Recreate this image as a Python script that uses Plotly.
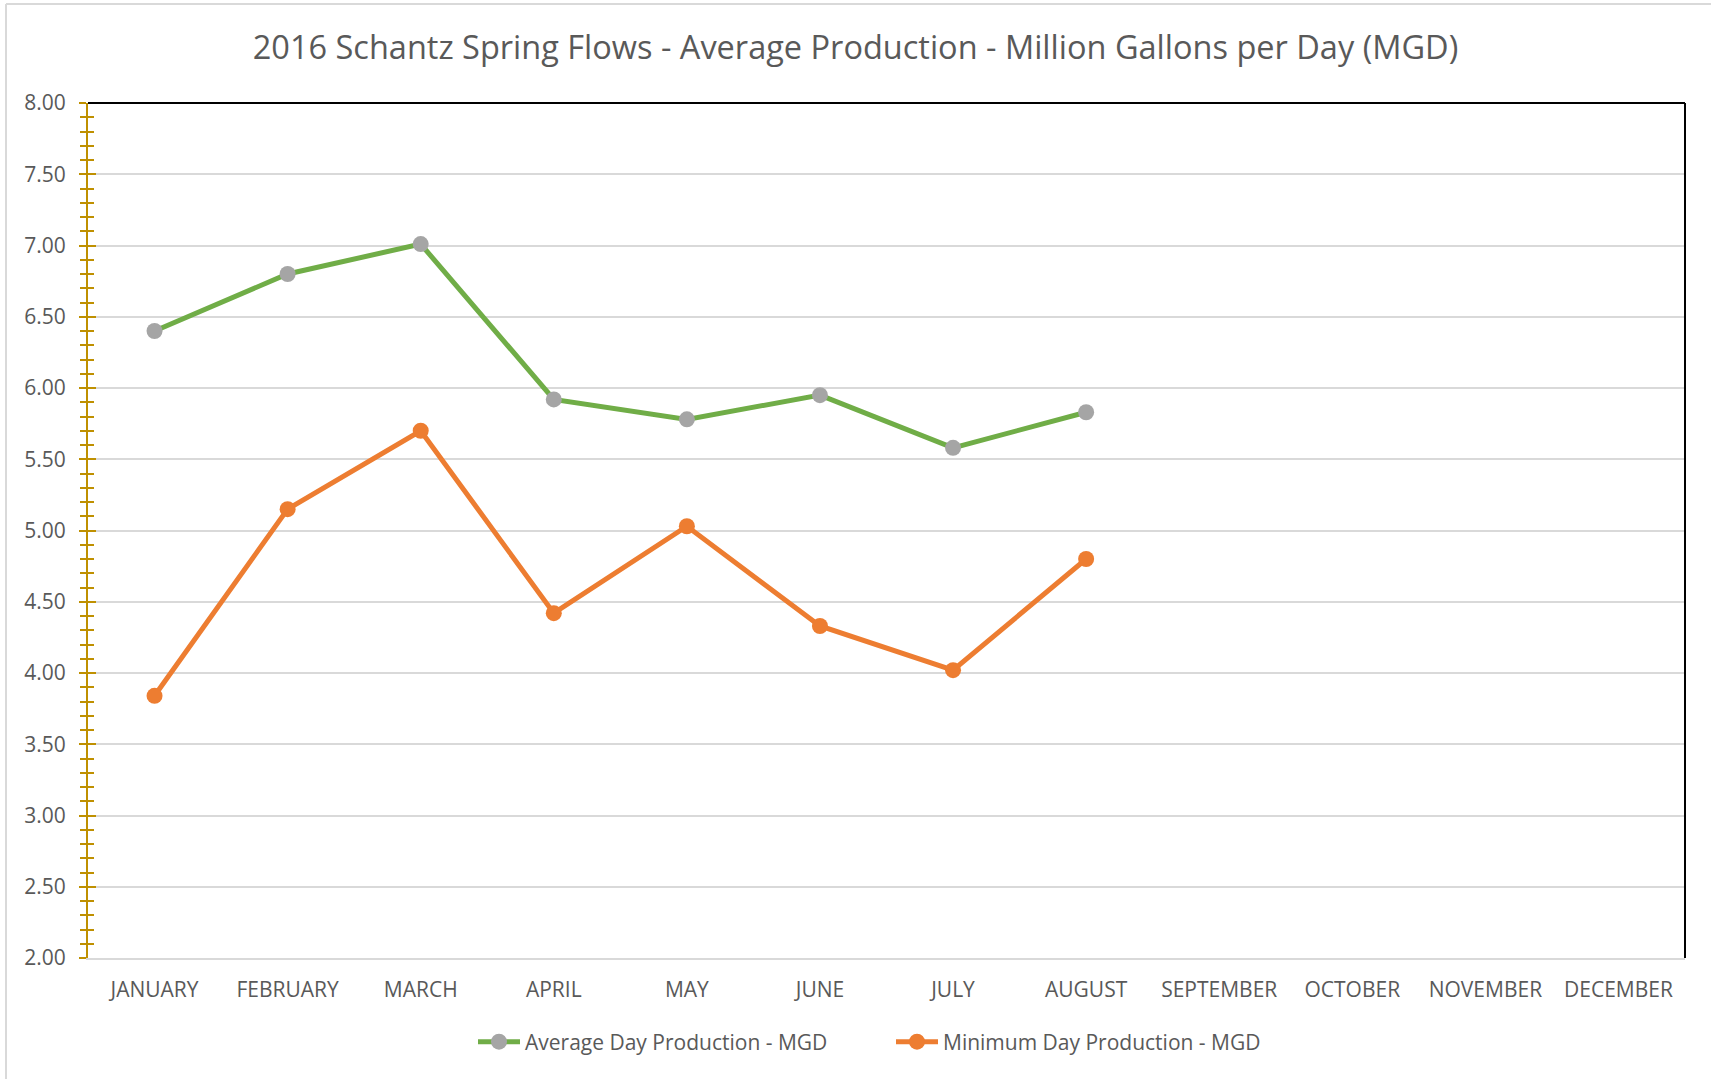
import plotly.graph_objects as go

months = ["JANUARY", "FEBRUARY", "MARCH", "APRIL", "MAY", "JUNE", "JULY",
          "AUGUST", "SEPTEMBER", "OCTOBER", "NOVEMBER", "DECEMBER"]
avg_months = months[:8]
avg_day = [6.40, 6.80, 7.01, 5.92, 5.78, 5.95, 5.58, 5.83]
min_day = [3.84, 5.15, 5.70, 4.42, 5.03, 4.33, 4.02, 4.80]

TXT = "#595959"
GOLD = "#BF9000"
GRID = "#D9D9D9"
FONT = "Open Sans"

W, H = 1711, 1079
L, R, T, B = 88, 26, 103, 121
PW, PH = W - L - R, H - T - B

fig = go.Figure()
fig.add_trace(go.Scatter(
    x=avg_months, y=avg_day, mode="lines+markers",
    name="Average Day Production - MGD",
    line=dict(color="#70AD47", width=5),
    marker=dict(color="#A5A5A5", size=16),
))
fig.add_trace(go.Scatter(
    x=avg_months, y=min_day, mode="lines+markers",
    name="Minimum Day Production - MGD",
    line=dict(color="#ED7D31", width=5),
    marker=dict(color="#ED7D31", size=16),
))
# helper trace so the overlay axis (inside half of crossing ticks) is drawn
fig.add_trace(go.Scatter(x=[months[0]], y=[None], yaxis="y2",
                         showlegend=False, hoverinfo="skip"))

fig.update_layout(
    width=W, height=H,
    paper_bgcolor="white", plot_bgcolor="white",
    margin=dict(l=L, r=R, t=T, b=B),
    font=dict(family=FONT, color=TXT, size=21),
    title=dict(
        text="2016 Schantz Spring Flows - Average Production - Million Gallons per Day (MGD)",
        font=dict(family=FONT, size=32.5, color=TXT),
        x=0.5, xref="container", xanchor="center",
        y=1 - 48 / H, yref="container", yanchor="middle",
    ),
    xaxis=dict(
        type="category", categoryorder="array", categoryarray=months,
        range=[-0.5, 11.5], showgrid=False,
        showline=True, linecolor=GRID, linewidth=2,
        ticks="", tickfont=dict(size=21, color=TXT), ticklabelstandoff=12,
        zeroline=False,
    ),
    yaxis=dict(
        range=[2, 8], dtick=0.5, tick0=2, tickformat=".2f",
        showgrid=True, gridcolor=GRID, gridwidth=2,
        showline=True, linecolor=GOLD, linewidth=2,
        ticks="outside", ticklen=7, tickwidth=2, tickcolor=GOLD,
        minor=dict(dtick=0.1, ticks="outside", ticklen=6, tickwidth=2,
                   tickcolor=GOLD, showgrid=False),
        tickfont=dict(size=21, color=TXT), ticklabelstandoff=9,
        zeroline=False,
    ),
    yaxis2=dict(
        range=[2, 8], dtick=0.5, tick0=2, overlaying="y", side="left",
        showgrid=False, showline=False, showticklabels=False,
        ticks="inside", ticklen=8, tickwidth=2, tickcolor=GOLD,
        minor=dict(dtick=0.1, ticks="inside", ticklen=6, tickwidth=2,
                   tickcolor=GOLD, showgrid=False),
        zeroline=False,
    ),
    legend=dict(
        orientation="h", x=(466 - 5 + 12) / W, xref="container", xanchor="left",
        y=1 - 1042 / H, yref="container", yanchor="middle",
        font=dict(size=21, color=TXT), bgcolor="rgba(0,0,0,0)",
        entrywidth=361, itemwidth=42,
    ),
    shapes=[
        # black top/right frame of plot area
        dict(type="line", xref="paper", yref="paper", x0=0, x1=1, y0=1, y1=1,
             line=dict(color="black", width=2), layer="above"),
        dict(type="line", xref="paper", yref="paper", x0=1, x1=1, y0=0, y1=1,
             line=dict(color="black", width=2), layer="above"),
        # light chart-area border (top and left)
        dict(type="line", xref="paper", yref="paper",
             x0=(6 - L) / PW, x1=(W - L + 5) / PW,
             y0=1 + (T - 4) / PH, y1=1 + (T - 4) / PH,
             line=dict(color=GRID, width=2)),
        dict(type="line", xref="paper", yref="paper",
             x0=(6 - L) / PW, x1=(6 - L) / PW,
             y0=-(B + 5) / PH, y1=1 + (T - 4) / PH,
             line=dict(color=GRID, width=2)),
    ],
)

fig.write_html("out.html", config={"displayModeBar": False},
               post_script="document.body.style.margin='0';")
